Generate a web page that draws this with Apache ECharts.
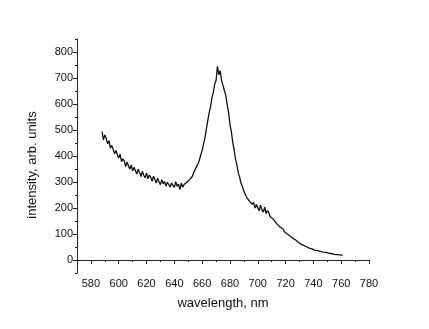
<!DOCTYPE html>
<html>
<head>
<meta charset="utf-8">
<script src="https://cdn.jsdelivr.net/npm/echarts@6/dist/echarts.min.js"></script>
<style>html,body{margin:0;padding:0;background:#fff}#c{width:429px;height:329px}</style>
</head>
<body>
<div id="c"></div>
<script>
var wavelengthStart = 588;
var intensity = [
495,462,481,468,447,459,430,441,436,409,421,404,392,407,378,389,381,359,377,362,
350,366,343,357,350,331,349,336,321,341,326,316,335,312,327,318,303,322,310,296,
315,300,290,309,293,302,284,299,306,281,296,287,279,301,283,292,271,296,280,290,
286,299,296,309,315,322,338,341,359,369,384,404,421,446,470,503,534,566,588,622,
645,676,690,745,712,728,690,684,652,633,598,568,522,494,452,425,388,366,334,318,
294,282,264,259,241,246,226,233,214,222,200,213,208,189,211,193,184,203,178,190,
181,166,172,158,150,147,138,136,127,122,120,110,113,101,104,93,96,85,86,78,
77,69,71,61,64,56,58,51,53,46,49,43,44,38,41,36,37,33,35,30,
32,29,31,26,29,25,27,22,25,21,23,20,21,18
];
var xMajorTicks = [580,600,620,640,660,680,700,720,740,760,780];
var xMinorTicks = [570,590,610,630,650,670,690,710,730,750,770];
var yMajorTicks = [0,100,200,300,400,500,600,700,800];
var yMinorTicks = [-50,50,150,250,350,450,550,650,750,850];

var seriesData = intensity.map(function(v,i){return [wavelengthStart+i, v];});

var chart = echarts.init(document.getElementById('c'), null, {renderer:'canvas'});
var font = 'Liberation Sans, Arial, sans-serif';
var axisColor = '#222';
function xAx(major){
  return {
    type:'value', min:570, max:780, position:'bottom',
    name: major ? 'wavelength, nm' : '', nameLocation:'middle', nameGap:24,
    nameTextStyle:{fontFamily:font,fontSize:13,color:'#111'},
    axisLine:{show:major,lineStyle:{color:axisColor,width:1}},
    axisTick:{show:true,inside:false,length:major?4:2,customValues:major?xMajorTicks:xMinorTicks,lineStyle:{color:axisColor}},
    axisLabel:{show:major,customValues:xMajorTicks,fontFamily:font,fontSize:11,color:'#111',margin:5},
    splitLine:{show:false}
  };
}
function yAx(major){
  return {
    type:'value', min:-50, max:850, position:'left',
    name: major ? 'intensity, arb. units' : '', nameLocation:'middle', nameGap:38, nameRotate:90,
    nameTextStyle:{fontFamily:font,fontSize:13,color:'#111',padding:[0,18,0,0]},
    axisLine:{show:major,lineStyle:{color:axisColor,width:1}},
    axisTick:{show:true,inside:false,length:major?4:2,customValues:major?yMajorTicks:yMinorTicks,lineStyle:{color:axisColor}},
    axisLabel:{show:major,customValues:yMajorTicks,fontFamily:font,fontSize:11,color:'#111',margin:4},
    splitLine:{show:false}
  };
}
chart.setOption({
  backgroundColor:'#fff',
  animation:false,
  grid:{left:77,right:60,top:39,bottom:56},
  xAxis:[xAx(true), xAx(false)],
  yAxis:[yAx(true), yAx(false)],
  series:[{
    type:'line', data:seriesData, xAxisIndex:0, yAxisIndex:0,
    showSymbol:false, symbol:'none',
    lineStyle:{color:'#111',width:1.3}
  }]
});
</script>
</body>
</html>
